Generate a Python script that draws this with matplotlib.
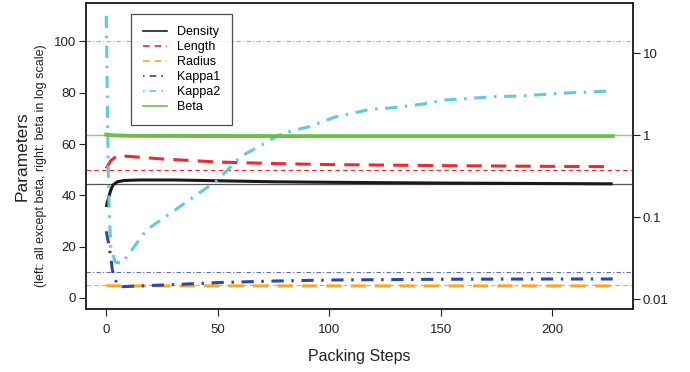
import numpy as np
import matplotlib.pyplot as plt
from matplotlib.lines import Line2D

plt.rcParams['font.family'] = ['Liberation Sans', 'DejaVu Sans']

# values (left axis units, beta on log right axis)
density_x = [0, 1, 2, 3, 5, 8, 15, 30, 50, 75, 100, 150, 200, 227]
density_y = [35.5, 39, 42, 44, 45.3, 45.8, 46, 46, 45.7, 45.3, 45.1, 44.8, 44.6, 44.5]

length_x = [0, 2, 5, 10, 25, 50, 75, 100, 150, 200, 227]
length_y = [50.5, 53.5, 55.5, 55.2, 54.2, 53.0, 52.4, 52.0, 51.6, 51.3, 51.2]

radius_x = [0, 5, 50, 100, 150, 227]
radius_y = [4.8, 4.7, 4.7, 4.7, 4.7, 4.7]

kappa1_x = [0, 1, 2, 2.7, 3.3, 5, 7, 15, 30, 50, 75, 100, 150, 200, 227]
kappa1_y = [26, 21.4, 16, 11, 9, 5, 4.4, 4.7, 5.2, 6.0, 6.6, 7.0, 7.3, 7.4, 7.4]

kappa2_x = [0, 1, 2, 4, 7, 18, 32, 50, 60, 79, 91, 102, 118, 129, 141, 152,
            163, 174, 185, 197, 208, 219, 225]
kappa2_y = [110, 42, 20, 14, 13.5, 26.5, 35, 46, 55, 64.2, 66.8, 70.4, 73.5, 74.2,
            75.5, 77.2, 77.8, 78.5, 78.7, 79.4, 80, 80.4, 80.7]

beta_x = [0, 3, 10, 50, 100, 227]
beta_y = [1.02, 1.0, 0.985, 0.978, 0.975, 0.975]

# target values (thin reference lines)
ref_density = 44.5
ref_length = 50
ref_radius = 5
ref_kappa1 = 10
ref_kappa2 = 100
ref_beta = 1

c_black = '#1a1a1a'
c_red = '#ee2a2e'
c_orange = '#f9a825'
c_blue = '#2d48a8'
c_cyan = '#62cadb'
c_green = '#6cbd4a'

fig = plt.figure(figsize=(6.9, 3.72), dpi=100)
ax = fig.add_axes([86/690, 1-309/372, (633-86)/690, (309-3)/372])
ax2 = ax.twinx()

# reference lines
ax.axhline(ref_kappa2, color=c_cyan, lw=0.8, dashes=(4, 2, 1, 2))
ax.axhline(ref_length, color=c_red, lw=0.8, dashes=(4, 3))
ax.axhline(ref_density, color='#555555', lw=0.9)
ax.axhline(ref_kappa1, color='#5b6fc4', lw=0.8, dashes=(4, 2, 1, 2))
ax.axhline(ref_radius, color=c_orange, lw=0.8, dashes=(4, 3))
ax2.axhline(ref_beta, color='#8fcf75', lw=1.0)

lw = 2.2
ax.plot(density_x, density_y, color=c_black, lw=lw, solid_capstyle='butt')
ax.plot(length_x, length_y, color=c_red, lw=lw, dashes=(5, 3))
ax.plot(radius_x, radius_y, color=c_orange, lw=lw, dashes=(5, 3))
ax.plot(kappa1_x, kappa1_y, color=c_blue, lw=lw, dashes=(4, 2.5, 0.8, 2.5))
ax.plot(kappa2_x, kappa2_y, color=c_cyan, lw=lw, dashes=(4, 2.5, 0.8, 2.5))
ax2.plot(beta_x, beta_y, color=c_green, lw=lw + 0.6)

ax.set_xlim(-9.08, 236.08)
ax.set_ylim(-4.3, 115)
ax2.set_yscale('log')
ax2.set_ylim(10**-2.118, 10**1.613)

ax.set_xticks([0, 50, 100, 150, 200])
ax.set_yticks([0, 20, 40, 60, 80, 100])
ax2.set_yticks([0.01, 0.1, 1, 10])
ax2.set_yticklabels(['0.01', '0.1', '1', '10'])
ax2.yaxis.set_minor_locator(plt.NullLocator())

for a in (ax, ax2):
    a.tick_params(direction='out', length=5, width=0.8, labelsize=9.5,
                  colors='#222222', pad=2)
    for s in a.spines.values():
        s.set_linewidth(1.1)
        s.set_color('#222222')
ax.tick_params(axis='x', pad=6)

ax.set_xlabel('Packing Steps', fontsize=11.5, color='#222222', labelpad=9)
fig.text(22/690, 1-156/372, 'Parameters', rotation=90, fontsize=12.5,
         ha='center', va='center', color='#222222')
fig.text(41/690, 1-166/372, '(left: all except beta, right: beta in log scale)',
         rotation=90, fontsize=9, ha='center', va='center', color='#222222')

handles = [
    Line2D([], [], color=c_black, lw=1.2),
    Line2D([], [], color=c_red, lw=1.2, dashes=(4, 3)),
    Line2D([], [], color=c_orange, lw=1.2, dashes=(4, 3)),
    Line2D([], [], color=c_blue, lw=1.2, dashes=(1, 3, 4, 3)),
    Line2D([], [], color=c_cyan, lw=1.2, dashes=(1, 3, 4, 3)),
    Line2D([], [], color=c_green, lw=1.2),
]
labels = ['Density', 'Length', 'Radius', 'Kappa1', 'Kappa2', 'Beta']
leg = ax2.legend(handles, labels, loc='upper left',
                 bbox_to_anchor=((131-86)/547, 1-(14-3)/306), borderaxespad=0,
                 fontsize=9, frameon=True, fancybox=False, edgecolor='#222222',
                 handlelength=1.9, labelspacing=0.25, borderpad=0.95,
                 handletextpad=0.85)
leg.get_frame().set_linewidth(0.9)

fig.savefig('out.png', dpi=100)
